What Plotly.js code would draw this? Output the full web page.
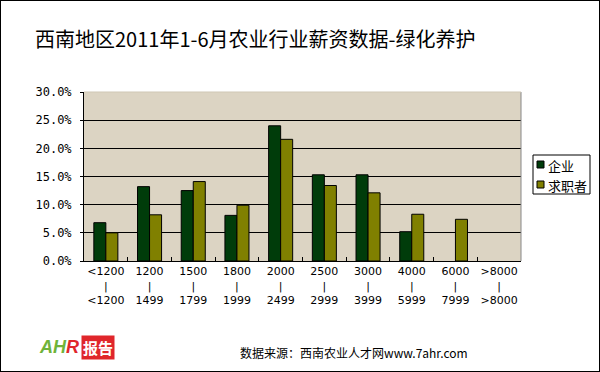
<!DOCTYPE html>
<html><head><meta charset="utf-8">
<script src="https://cdn.plot.ly/plotly-3.0.1.min.js"></script>
<style>
html,body{margin:0;padding:0;background:#fff;}
#frame{position:absolute;left:0;top:0;width:600px;height:372px;box-sizing:border-box;border:1px solid #000;overflow:hidden;}
#chart{width:598px;height:370px;}
</style></head>
<body><div id="frame"><div id="chart"></div></div>
<script>
const categories = ['<1200<br>|<br><1200','1200<br>|<br>1499','1500<br>|<br>1799','1800<br>|<br>1999','2000<br>|<br>2499','2500<br>|<br>2999','3000<br>|<br>3999','4000<br>|<br>5999','6000<br>|<br>7999','>8000<br>|<br>>8000'];
const seriesNames = ['企业', '求职者'];
const enterprise = [6.8, 13.2, 12.5, 8.1, 24.0, 15.3, 15.3, 5.2, 0, 0];
const seeker = [5.0, 8.2, 14.1, 9.9, 21.6, 13.4, 12.1, 8.3, 7.4, 0];
const yTickVals = [0,5,10,15,20,25,30];
const yTickText = ['0.0%','5.0%','10.0%','15.0%','20.0%','25.0%','30.0%'];

const colors = ['#003c0a', '#808000'];
const outline = arr => arr.map(v => v > 0 ? 1 : 0);
const traces = [
  {type:'bar', name:seriesNames[0], x:categories, y:enterprise,
   marker:{color:colors[0], line:{color:'#000', width:outline(enterprise)}}},
  {type:'bar', name:seriesNames[1], x:categories, y:seeker,
   marker:{color:colors[1], line:{color:'#000', width:outline(seeker)}}}
];
const cjk = '"Noto Sans CJK SC", sans-serif';
const mono = '"DejaVu Sans Mono", monospace';
// pixel (page) -> paper coordinates helpers for the legend box
const L = 83, T = 91, W = 437, H = 169;
const px = X => (X - 1 - L) / W;
const py = Y => (T + H - (Y - 1)) / H;

const legendShapes = [
  {type:'rect', xref:'paper', yref:'paper', x0:px(533), x1:px(590), y0:py(155), y1:py(194),
   fillcolor:'#fff', line:{color:'#000', width:1}},
  {type:'rect', xref:'paper', yref:'paper', x0:px(537), x1:px(544), y0:py(161), y1:py(168),
   fillcolor:colors[0], line:{color:'#000', width:1}},
  {type:'rect', xref:'paper', yref:'paper', x0:px(537), x1:px(544), y0:py(181), y1:py(188),
   fillcolor:colors[1], line:{color:'#000', width:1}}
];
const legendTexts = seriesNames.map((n, i) => ({
  xref:'paper', yref:'paper', x:px(546), y:py(i === 0 ? 165 : 185), xanchor:'left', yanchor:'middle',
  showarrow:false, text:n, font:{family:cjk, size:13, color:'#000'}
}));

const layout = {
  width:598, height:370,
  margin:{l:L, r:598-L-W, t:T, b:370-T-H, autoexpand:false},
  paper_bgcolor:'#fff', plot_bgcolor:'#dcd4c3',
  barmode:'group', bargap:0.45, bargroupgap:0,
  showlegend:false,
  title:{text:'西南地区2011年1-6月农业行业薪资数据-绿化养护', font:{family:cjk, size:20, color:'#000'},
    x:34/598, xanchor:'left', xref:'container', y:1-39/370, yanchor:'middle', yref:'container'},
  xaxis:{type:'category', tickson:'boundaries', ticks:'inside', ticklen:4, tickcolor:'#000',
    showline:true, linecolor:'#000', linewidth:1, showgrid:false,
    tickfont:{family:'"DejaVu Sans", sans-serif', size:11, color:'#000'}, tickangle:0, fixedrange:true},
  yaxis:{range:[0,30], tickvals:yTickVals, ticktext:yTickText, ticks:'outside', ticklen:3, tickcolor:'#000',
    ticklabelstandoff:6,
    showline:true, linecolor:'#000', linewidth:1, showgrid:true, gridcolor:'#000', gridwidth:1,
    zeroline:false, tickfont:{family:mono, size:12, color:'#000'}, fixedrange:true},
  shapes:[
    {type:'line', xref:'paper', yref:'paper', x0:1, x1:1, y0:0, y1:1, line:{color:'#888', width:1}},
    {type:'line', xref:'paper', yref:'paper', x0:0, x1:1, y0:1, y1:1, line:{color:'#cfc7b5', width:1}}
  ].concat(legendShapes),
  annotations:[
    {xref:'paper', yref:'paper', x:px(37), y:py(347), xanchor:'left', yanchor:'middle', showarrow:false,
     text:'<i><b><span style="color:#6fb33a">A</span><span style="color:#6fb33a">H</span><span style="color:#e0262b">R</span></b></i>',
     font:{family:'"Liberation Sans", sans-serif', size:18}},
    {xref:'paper', yref:'paper', x:px(81), y:py(347), xanchor:'left', yanchor:'middle', showarrow:false,
     text:'<b>报告</b>', bgcolor:'#e0262b', borderpad:1, font:{family:cjk, size:15, color:'#fff'}},
    {xref:'paper', yref:'paper', x:px(238), y:py(352), xanchor:'left', yanchor:'middle', showarrow:false,
     text:'数据来源：西南农业人才网www.7ahr.com', font:{family:cjk, size:12, color:'#000'}}
  ].concat(legendTexts)
};
Plotly.newPlot('chart', traces, layout, {displayModeBar:false, staticPlot:true});
</script></body></html>
